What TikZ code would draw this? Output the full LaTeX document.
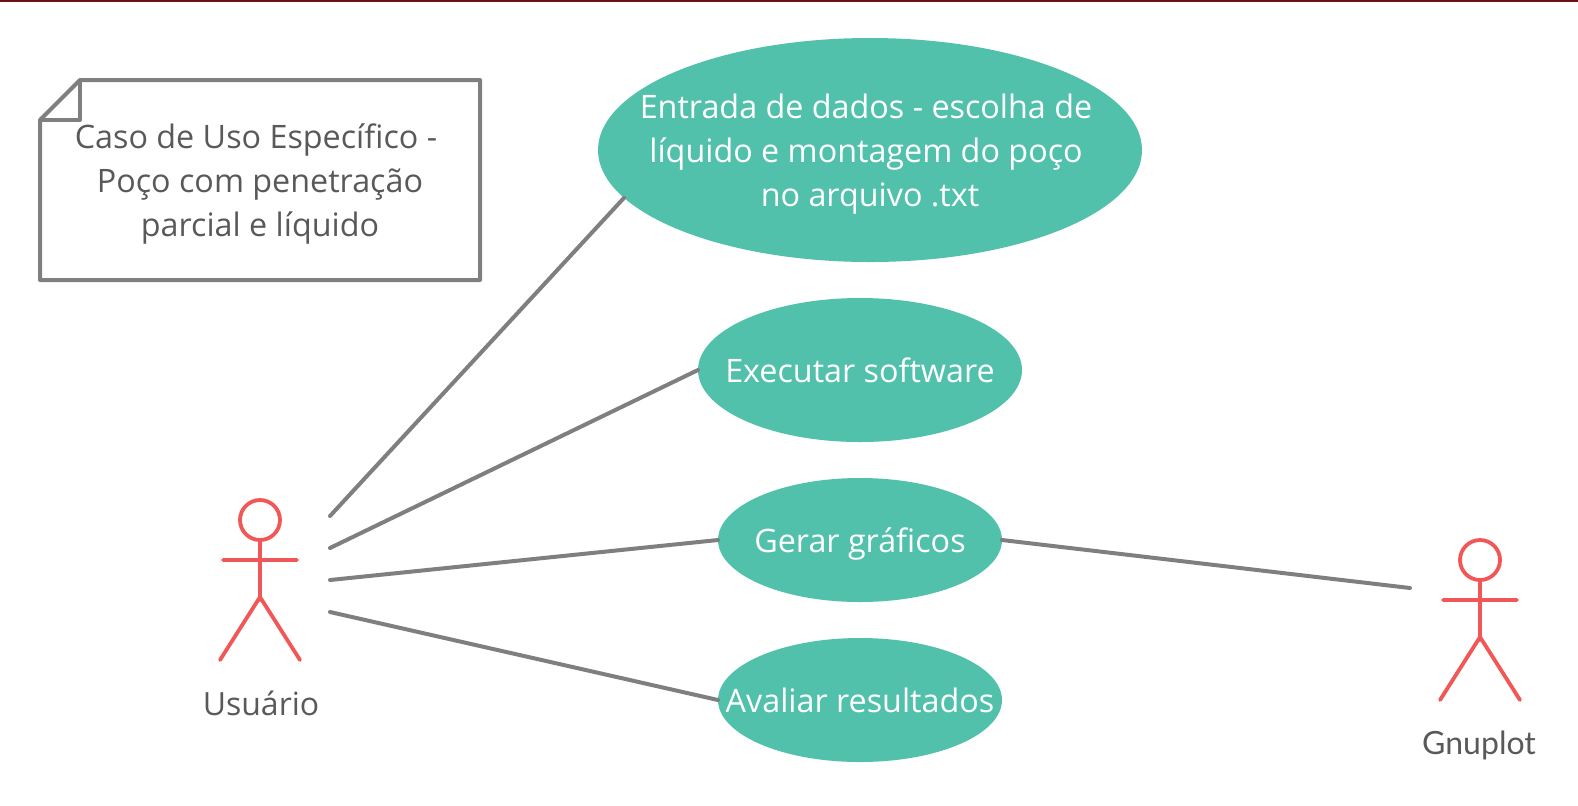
\documentclass[tikz,border=0pt]{standalone}
\usepackage{fontspec}
\setmainfont{Open Sans}
\newfontfamily\latofont{Lato}
\definecolor{teal1}{HTML}{52C1AB}
\definecolor{red1}{HTML}{F25757}
\definecolor{gray1}{HTML}{7F7F7F}
\definecolor{text1}{HTML}{595959}
\definecolor{bar1}{HTML}{6B1118}
\usetikzlibrary{shapes.geometric}
\tikzset{
  usecase/.style={ellipse,fill=teal1,inner sep=0pt,outer sep=0pt},
  usetext/.style={text=white,align=center,inner sep=0pt,font=\fontsize{16.15}{22}\selectfont},
  link/.style={draw=gray1,line width=2pt,line cap=round},
  limb/.style={draw=red1,line width=1.9pt,line cap=round,line join=round},
  notebox/.style={draw=gray1,line width=2pt,line join=round},
  notetext/.style={text=text1,align=center,font=\fontsize{16.15}{22}\selectfont,inner sep=0pt},
  actorlabel/.style={text=text1,font=\fontsize{16}{18}\selectfont,inner sep=0pt},
  actorlabelb/.style={text=text1,font=\latofont\fontsize{16}{18}\selectfont,inner sep=0pt}
}
\begin{document}
\begin{tikzpicture}[x=0.5pt,y=-0.5pt]
\useasboundingbox (0,0) rectangle (1578,805);
\fill[bar1] (0,0) rectangle (1578,2);
% note
\draw[notebox] (80,80) -- (480,80) -- (480,280) -- (40,280) -- (40,120) -- cycle;
\draw[notebox] (80,80) -- (80,120) -- (40,120);
\node[notetext] (note) at (256,184) {Caso de Uso Específico -\\\hspace*{4pt}Poço com penetração\\\hspace*{4pt}parcial e líquido};
% use cases
\node[usecase,minimum width=272pt,minimum height=112pt] (e1) at (870,150) {};
\node[usecase,minimum width=162pt,minimum height=72pt] (e2) at (860,370) {};
\node[usecase,minimum width=142pt,minimum height=62pt] (e3) at (860,540) {};
\node[usecase,minimum width=142pt,minimum height=62pt] (e4) at (860,700) {};
\node[usetext] (t1) at (866,154) {Entrada de dados - escolha de\\líquido e montagem do poço\\\hspace*{4pt}no arquivo .txt};
\node[usetext] (t2) at (860,370) {Executar software};
\node[usetext] (t3) at (860,544) {Gerar gráficos};
\node[usetext] (t4) at (860,700) {Avaliar resultados};
% actors
\draw[limb] (260,520) circle (10pt);
\draw[limb] (260,540) -- (260,600) (223,560) -- (297,560) (220,660) -- (260,597) -- (300,660);
\node[actorlabel] (ulabel) at (261,703) {Usuário};
\draw[limb] (1480,560) circle (10pt);
\draw[limb] (1480,580) -- (1480,640) (1443,600) -- (1517,600) (1440,700) -- (1480,637) -- (1520,700);
\node[actorlabelb] (glabel) at (1479,745) {Gnuplot};
% connector ends
\coordinate (u1) at (330,516);
\coordinate (u2) at (330,548);
\coordinate (u3) at (330,580);
\coordinate (u4) at (330,612);
\coordinate (g1) at (1410,588);
\draw[link] (u1) -- (e1.191);
\draw[link] (u2) -- (e2.west);
\draw[link] (u3) -- (e3.west);
\draw[link] (u4) -- (e4.west);
\draw[link] (e3.east) -- (g1);
\end{tikzpicture}
\end{document}
